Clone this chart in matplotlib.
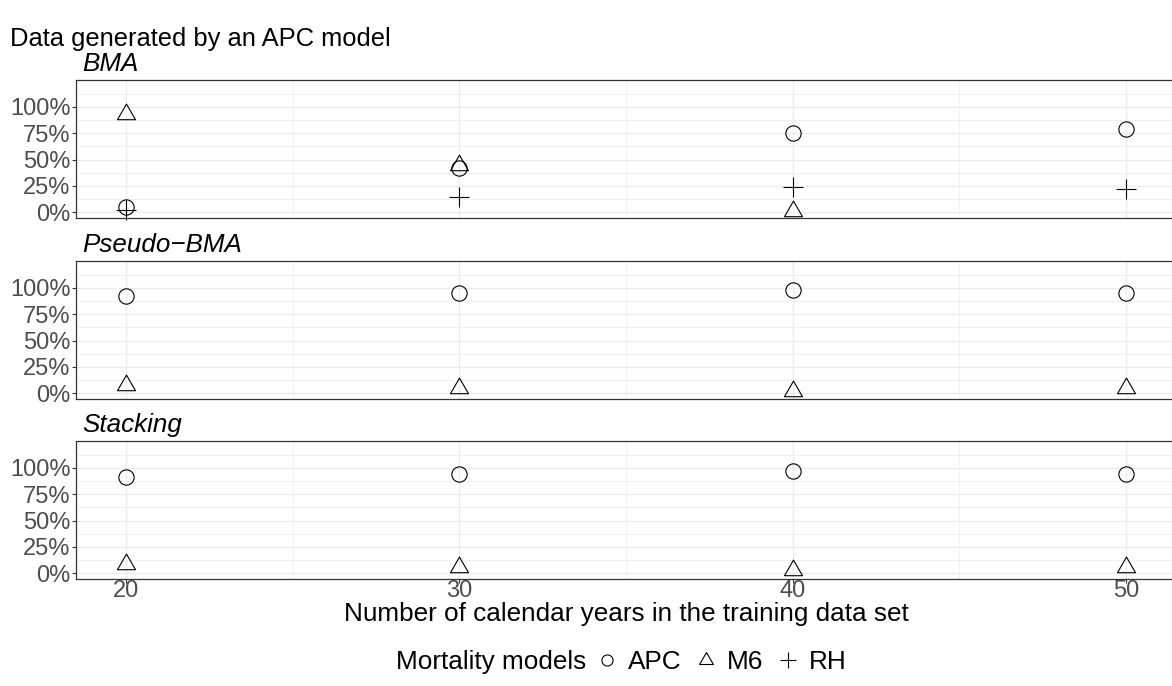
import numpy as np
import matplotlib
matplotlib.use("Agg")
import matplotlib.pyplot as plt
from matplotlib.path import Path
from matplotlib.lines import Line2D

plt.rcParams['font.family'] = ['Liberation Sans', 'DejaVu Sans']

# data
years = [20, 30, 40, 50]
methods = ["BMA", "Pseudo\u2212BMA", "Stacking"]

bma_apc = [0.05, 0.42, 0.755, 0.79]
bma_m6 = [0.93, 0.45, 0.012, np.nan]
bma_rh = [0.02, 0.14, 0.24, 0.215]

pbma_apc = [0.92, 0.95, 0.98, 0.95]
pbma_m6 = [0.08, 0.05, 0.02, 0.05]
pbma_rh = [np.nan, np.nan, np.nan, np.nan]

stack_apc = [0.91, 0.94, 0.975, 0.94]
stack_m6 = [0.09, 0.06, 0.025, 0.06]
stack_rh = [np.nan, np.nan, np.nan, np.nan]

panels = [(bma_apc, bma_m6, bma_rh), (pbma_apc, pbma_m6, pbma_rh), (stack_apc, stack_m6, stack_rh)]

# R style triangle (centred on centroid)
tri = Path([(0, 1), (-0.866, -0.5), (0.866, -0.5), (0, 1)],
           [Path.MOVETO, Path.LINETO, Path.LINETO, Path.CLOSEPOLY])

W, H = 1172, 686
fig = plt.figure(figsize=(W / 100, H / 100), dpi=100)

tops = [80, 261, 441]
ph = 138
grid_col = "#EBEBEB"
tick_col = "#4D4D4D"

axes = []
for i, (top, name, (apc, m6, rh)) in enumerate(zip(tops, methods, panels)):
    ax = fig.add_axes([76 / W, 1 - (top + ph) / H, 1100 / W, ph / H])
    ax.set_xlim(18.5, 51.5)
    ax.set_ylim(-0.057, 1.257)
    ax.set_yticks([0, 0.25, 0.5, 0.75, 1.0])
    ax.set_yticklabels(["0%", "25%", "50%", "75%", "100%"])
    ax.set_yticks([0.125, 0.375, 0.625, 0.875, 1.125], minor=True)
    ax.set_xticks(years)
    ax.set_xticks([25, 35, 45], minor=True)
    ax.grid(True, which="major", color=grid_col, lw=1.0)
    ax.grid(True, which="minor", color=grid_col, lw=0.5)
    ax.set_axisbelow(True)
    ax.tick_params(which="minor", length=0)
    ax.tick_params(which="major", length=3, width=0.8, color="#333333",
                   labelsize=17, labelcolor=tick_col, pad=1)
    for s in ax.spines.values():
        s.set_color("#333333")
        s.set_linewidth(0.9)
    if i < 2:
        ax.tick_params(axis="x", which="both", bottom=False, labelbottom=False)

    ax.plot(years, apc, ls="none", marker="o", ms=11, mfc="none", mec="black", mew=0.8, clip_on=False)
    ax.plot(years, m6, ls="none", marker=tri, ms=15, mfc="none", mec="black", mew=0.8, clip_on=False)
    ax.plot(years, rh, ls="none", marker="+", ms=14.5, mec="black", mew=0.8, clip_on=False)

    ax.annotate(name, xy=(0, 1), xycoords="axes fraction", xytext=(4.3, 3),
                textcoords="offset points", ha="left", va="bottom",
                fontsize=18.7, style="italic")
    axes.append(ax)

axes[-1].tick_params(axis="x", pad=-2)
axes[-1].set_xlabel("Number of calendar years in the training data set", fontsize=18.8, labelpad=-0.5)

fig.text(10 / W, 1 - 39 / H, "Data generated by an APC model", fontsize=18.4, ha="left", va="center")

# legend: title to the left of the keys, as in ggplot's bottom legend
fig.text(586 / W, 1 - 662 / H, "Mortality models", fontsize=18.8, ha="right", va="center")
handles = [
    Line2D([], [], ls="none", marker="o", ms=8, mfc="none", mec="black", mew=0.8),
    Line2D([], [], ls="none", marker=tri, ms=11.5, mfc="none", mec="black", mew=0.8),
    Line2D([], [], ls="none", marker="+", ms=11.5, mec="black", mew=0.8),
]
fig.legend(handles, ["APC", "M6", "RH"], loc="center left", bbox_to_anchor=(594 / W, 1 - 662 / H),
           ncol=3, frameon=False, fontsize=18.8, handlelength=1.0, handletextpad=0.3,
           columnspacing=0.45, borderaxespad=0, borderpad=0)

fig.savefig("out.png", dpi=100)
